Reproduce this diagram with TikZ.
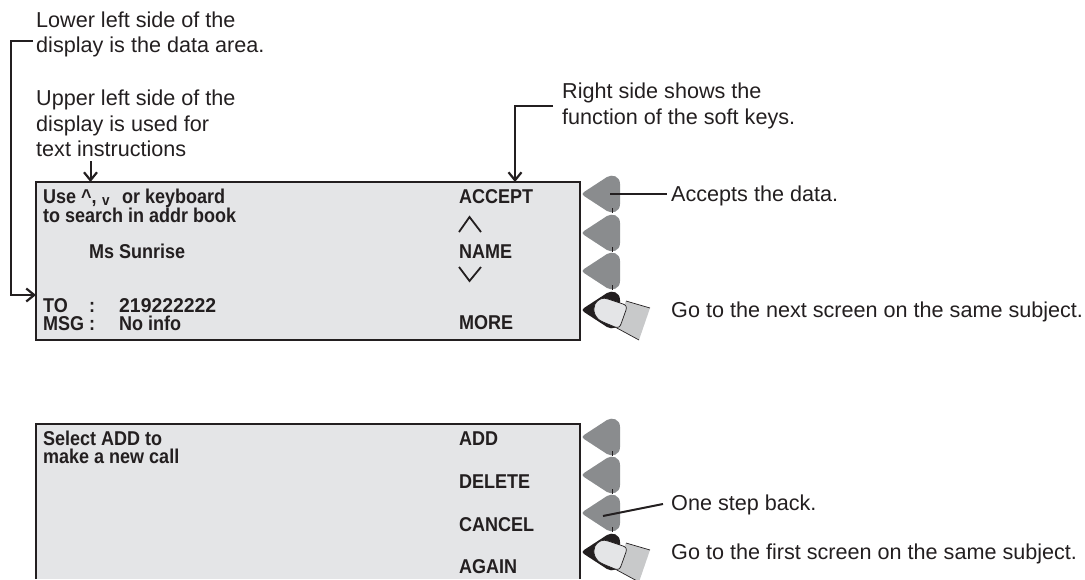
\documentclass[tikz,border=0pt]{standalone}
\usepackage{fontspec}
\setmainfont{Liberation Sans}
\newfontfamily\dispfont[FakeStretch=0.9]{Liberation Sans}
\usetikzlibrary{arrows.meta}
\definecolor{screengray}{RGB}{228,229,231}
\definecolor{keygray}{RGB}{138,140,142}
\definecolor{fingergray}{RGB}{200,201,202}
\definecolor{inkdark}{RGB}{35,31,32}
\tikzset{
	lbl/.style={anchor=base west,inner sep=0pt,text=inkdark,font=\fontsize{21.6}{25.5}\selectfont,align=left},
	disp/.style={anchor=base west,inner sep=0pt,text=inkdark,font=\fontsize{20}{18}\selectfont\dispfont\bfseries,align=left},
	leader/.style={draw=inkdark,line width=2pt},
	callout/.style={leader,-{Straight Barb[length=8pt,width=13pt,line width=2.2pt]}},
	softkey/.pic={
		\fill[keygray] (1,-2) -- (24,-17) .. controls (29,-20) and (37,-18) .. (37,-10) -- (37,10) .. controls (37,18) and (29,20) .. (24,17) -- (1,2) .. controls (-1,.7) and (-1,-.7) .. (1,-2) -- cycle;
		\draw[inkdark,line width=.8pt] (29,14) -- (29,19);
		\coordinate (-in) at (27,0);
	},
	pressedkey/.pic={
		\fill[inkdark] (1,-2) -- (24,-17) .. controls (29,-20) and (37,-18) .. (37,-10) -- (37,10) .. controls (37,18) and (29,20) .. (24,17) -- (1,2) .. controls (-1,.7) and (-1,-.7) .. (1,-2) -- cycle;
		\fill[fingergray] (43,-9) -- (67,-2) -- (56,30) -- (32,17) -- cycle;
		\draw[inkdark,line width=.7pt] (43,-9) -- (67,-2);
		\draw[inkdark,line width=.7pt] (32,17) -- (56,30);
		\draw[inkdark,line width=.7pt,fill=screengray] (12,-6) .. controls (15,-11) and (20,-13) .. (25,-11) -- (40,-6) .. controls (43,-5) and (44,-3) .. (43,0) -- (38,14) .. controls (37,17) and (35,18) .. (32,17) -- (20,12) .. controls (12,9) and (9,0) .. (12,-6) -- cycle;
	},
	chevron/.style={draw=inkdark,line width=1.8pt}
}
\begin{document}
\begin{tikzpicture}[x=1pt,y=-1pt]
	\useasboundingbox (0,0) rectangle (1085,579);
	
	\node[draw=inkdark,line width=1.2pt,fill=screengray,anchor=north west,minimum width=544pt,minimum height=158pt,inner sep=0pt,outer sep=0pt] (dispa) at (36,182) {};
	\fill[screengray] (36,424) rectangle (580,579);
	\coordinate (dispbbl) at (36,579);
	\coordinate (dispbtl) at (36,424);
	\coordinate (dispbtr) at (580,424);
	\coordinate (dispbbr) at (580,579);
	\draw[inkdark,line width=1.2pt] (dispbbl) -- (dispbtl) -- (dispbtr) -- (dispbbr);
	
	\node[lbl] (lowerlbl) at (36,27) {Lower left side of the};
	\node[lbl] (lowerlblb) at (36,52) {display is the data area.};
	\node[lbl] (upperlbl) at (36,105) {Upper left side of the};
	\node[lbl] (upperlblb) at (36,131) {display is used for};
	\node[lbl] (upperlblc) at (36,156) {text instructions};
	\node[lbl] (rightlbl) at (562,98) {Right side shows the};
	\node[lbl] (rightlblb) at (562,124) {function of the soft keys.};
	\node[lbl] (acceptlbl) at (671,201) {Accepts the data.};
	\node[lbl] (nextlbl) at (671,317) {Go to the next screen on the same subject.};
	\node[lbl] (backlbl) at (671,510) {One step back.};
	\node[lbl] (firstlbl) at (671,559) {Go to the first screen on the same subject.};
	
	\node[disp] (usetxt) at (43,203) {Use \^{},};
	\node[disp,font=\fontsize{15}{14}\selectfont\dispfont\bfseries] (vtxt) at (102,205) {v};
	\node[disp] (ortxt) at (122,203) {or keyboard};
	\node[disp] (searchtxt) at (43,222) {to search in addr book};
	\node[disp] (nametxt) at (89,258) {Ms Sunrise};
	\node[disp] (totxt) at (43,312) {TO};
	\node[disp] (tocolon) at (89,312) {:};
	\node[disp] (tonum) at (119,312) {\addfontfeature{FakeStretch=0.97}219222222};
	\node[disp] (msgtxt) at (43,330) {MSG :};
	\node[disp] (msginfo) at (119,330) {No info};
	\node[disp] (accepttxt) at (459,203) {ACCEPT};
	\node[disp] (nametxtb) at (459,258) {NAME};
	\node[disp] (moretxt) at (459,329) {MORE};
	\draw[chevron] (459,232) -- (469.5,217) -- (481,232);
	\draw[chevron] (459,267) -- (469.5,281) -- (481,267);
	
	\node[disp] (selecttxt) at (43,445) {Select ADD to};
	\node[disp] (maketxt) at (43,463) {make a new call};
	\node[disp] (addtxt) at (459,445) {ADD};
	\node[disp] (deletetxt) at (459,488) {DELETE};
	\node[disp] (canceltxt) at (459,531) {CANCEL};
	\node[disp] (againtxt) at (459,573) {AGAIN};
	
	\pic (keya) at (583,194) {softkey};
	\pic (keyb) at (583,233) {softkey};
	\pic (keyc) at (583,271) {softkey};
	\pic (keyd) at (583,310) {pressedkey};
	\pic (keye) at (583,437) {softkey};
	\pic (keyf) at (583,475) {softkey};
	\pic (keyg) at (583,513) {softkey};
	\pic (keyh) at (583,552) {pressedkey};
	
	\coordinate (lowertail) at (33,41);
	\coordinate (lowerhead) at (36,295);
	\coordinate (uppertail) at (90.5,161);
	\coordinate (righttail) at (553,106);
	\coordinate (acceptend) at (667,194);
	\coordinate (backtail) at (663,504);
	\coordinate (backend) at (603,516);
	\draw[callout] (lowertail) -- (11,41) |- (lowerhead);
	\draw[callout] (uppertail) -- (uppertail |- dispa.north);
	\draw[callout] (righttail) -| (515,0 |- dispa.north);
	\draw[leader] (keya-in) -- (acceptend);
	\draw[leader] (backtail) -- (backend);
\end{tikzpicture}
\end{document}
